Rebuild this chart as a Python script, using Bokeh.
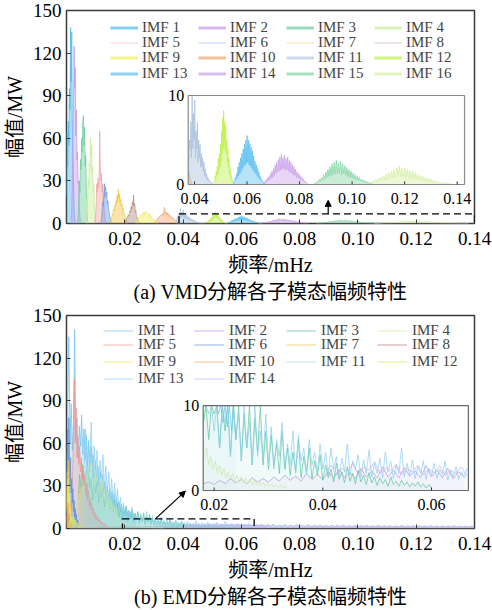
import numpy as np
from bokeh.plotting import figure
from bokeh.layouts import column
from bokeh.models import (Range1d, FixedTicker, Legend, LegendItem, Arrow,
                          NormalHead, BoxAnnotation, Title)
from bokeh.core.properties import value
from bokeh.embed import file_html
from bokeh.resources import INLINE

FONT = "Liberation Serif, Noto Sans CJK SC"

# ---- axes -------------------------------------------------------------
x_ticks = [0.02, 0.04, 0.06, 0.08, 0.10, 0.12, 0.14]
x_tick_labels = ["0.02", "0.04", "0.06", "0.08", "0.10", "0.12", "0.14"]
y_ticks = [0, 30, 60, 90, 120, 150]
y_tick_labels = ["0", "30", "60", "90", "120", "150"]
vmd_inset_x_ticks = [0.04, 0.06, 0.08, 0.10, 0.12, 0.14]
vmd_inset_x_labels = ["0.04", "0.06", "0.08", "0.10", "0.12", "0.14"]
emd_inset_x_ticks = [0.02, 0.04, 0.06]
emd_inset_x_labels = ["0.02", "0.04", "0.06"]
inset_y_ticks = [0, 10]
inset_y_labels = ["0", "10"]

# ---- (a) VMD mode spectra: first bin (mHz), bin width, amplitudes (MW) ---
vmd_names = ["IMF %d" % i for i in range(1, 17)]
vmd_f0 = [0.0, 0.0016, 0.0038, 0.0066, 0.0098, 0.0118, 0.0150, 0.0200,
          0.0236, 0.0300, 0.0376, 0.0475, 0.0548, 0.0662, 0.0856, 0.1055]
vmd_df = [0.0002, 0.0002, 0.0002, 0.0002, 0.0002, 0.0002, 0.0002, 0.0002,
          0.0003, 0.0003, 0.00025, 0.0002, 0.00025, 0.0003, 0.0004, 0.0005]
vmd_imf1 = [20, 65, 40, 72, 55, 95, 80, 138, 100, 135, 70, 48, 30, 12, 4, 1]
vmd_imf2 = [2, 10, 30, 55, 80, 125, 95, 110, 62, 80, 45, 50, 28, 30, 12, 5, 1]
vmd_imf3 = [1, 6, 15, 30, 22, 45, 38, 60, 50, 72, 76, 55, 68, 40, 48, 25, 10, 2]
vmd_imf4 = [1, 5, 18, 12, 30, 25, 42, 38, 60, 48, 55, 35, 40, 22, 28, 10, 4, 1]
vmd_imf5 = [1, 6, 14, 28, 22, 32, 25, 30, 65, 40, 30, 35, 22, 28, 15, 18, 8, 5, 2, 0.5]
vmd_imf6 = [0.5, 3, 8, 15, 12, 20, 28, 18, 26, 20, 22, 14, 16, 10, 8, 6, 3, 1.5, 0.5]
vmd_imf7 = [0.5, 1.5, 3, 5, 6, 8, 10, 9, 13, 12, 16, 14, 20, 16, 24, 18, 21, 15,
            17, 12, 14, 10, 11, 8, 7, 5, 4, 2.5, 1.5, 1, 0.5]
vmd_imf8 = [0.5, 1, 2, 3, 4, 5, 6, 5, 7, 9, 8, 12, 10, 15, 13, 20, 12, 14, 8, 9,
            5, 4, 3, 2, 1, 0.5]
vmd_imf9 = [0.3, 1, 2, 3, 4, 5, 6, 5, 7, 6, 8, 7, 8.5, 7, 6.5, 6, 7, 5, 5.5, 4,
            3.5, 3, 2, 1.5, 1, 0.5, 0.2]
vmd_imf10 = [0.2, 0.8, 1.5, 2, 3, 4, 4.5, 5, 6, 5.5, 7, 6, 11.5, 7, 8, 6, 7.5, 5,
             6, 4.5, 5, 3.5, 4, 3, 2.5, 2, 1.5, 1, 0.6, 0.3, 0.1]
vmd_imf11 = [1, 3, 5, 4, 7, 3, 10.5, 4, 8, 5, 9.5, 3, 6, 4, 7, 2.5, 5, 3, 4.5, 2,
             3.5, 2, 3, 1.5, 2.5, 1, 1.8, 0.8, 1.2, 0.5, 0.8, 0.4, 0.5, 0.3, 0.3,
             0.2, 0.2, 0.1, 0.1, 0.05]
vmd_imf12 = [0.2, 0.5, 1, 0.6, 1.5, 1, 2, 1.2, 3, 1.6, 3.5, 2, 4.5, 2.6, 6, 3.5,
             7.5, 4, 8.3, 4.5, 7, 3.8, 6.5, 3.5, 5, 2.6, 4, 2, 3, 1.2, 2, 0.8, 1.2,
             0.5, 0.6, 0.3, 0.3, 0.2, 0.1, 0.05]
vmd_imf13 = [0.1, 0.3, 0.5, 0.8, 0.6, 1.2, 0.8, 2, 1, 2.5, 1.2, 3, 1.5, 3.5, 1.8,
             4, 2, 4.5, 2.2, 5, 2.4, 5.5, 2.5, 5, 2.2, 4.6, 2.1, 4.2, 1.8, 3.8, 1.6,
             3.2, 1.4, 2.6, 1.2, 2.2, 1, 1.8, 0.8, 1.4, 0.6, 0.9, 0.5, 0.6, 0.4,
             0.3, 0.2, 0.15, 0.1, 0.05]
vmd_imf14 = [0.1, 0.3, 0.2, 0.5, 0.3, 0.7, 0.4, 0.9, 0.5, 1.2, 0.7, 1.5, 0.8, 1.8,
             1, 2.2, 1.2, 2.5, 1.4, 2.8, 1.5, 3.1, 1.6, 3.4, 1.7, 3.0, 1.8, 3.3,
             1.6, 2.9, 1.7, 3.1, 1.5, 2.7, 1.4, 2.5, 1.3, 2.2, 1.1, 2, 1, 1.7, 0.8,
             1.4, 0.7, 1.2, 0.6, 1, 0.5, 0.8, 0.4, 0.6, 0.3, 0.4, 0.2, 0.2, 0.1]
vmd_imf15 = [0.1, 0.2, 0.15, 0.35, 0.25, 0.6, 0.35, 0.8, 0.5, 1.1, 0.6, 1.4, 0.8,
             1.7, 0.9, 2, 1, 2.3, 1.1, 2.5, 1.2, 2.7, 1.2, 2.4, 1.3, 2.6, 1.1, 2.3,
             1.2, 2.1, 1, 1.9, 0.9, 1.7, 0.8, 1.5, 0.7, 1.3, 0.6, 1.1, 0.5, 0.9,
             0.45, 0.8, 0.4, 0.6, 0.3, 0.5, 0.25, 0.4, 0.2, 0.3, 0.15, 0.2, 0.1, 0.1]
vmd_imf16 = [0.1, 0.15, 0.1, 0.25, 0.15, 0.4, 0.25, 0.55, 0.3, 0.7, 0.4, 0.85,
             0.45, 1, 0.5, 1.2, 0.6, 1.35, 0.7, 1.5, 0.75, 1.7, 0.8, 1.9, 0.9, 2.1,
             0.9, 1.8, 0.85, 1.9, 0.8, 1.7, 0.75, 1.6, 0.7, 1.5, 0.65, 1.3, 0.6, 1.2,
             0.5, 1.05, 0.45, 0.9, 0.4, 0.8, 0.35, 0.7, 0.3, 0.6, 0.25, 0.5, 0.2,
             0.4, 0.2, 0.3, 0.15, 0.25, 0.1, 0.2, 0.1, 0.15, 0.1, 0.1, 0.05, 0.05]

# ---- (b) EMD mode spectra ----------------------------------------------
emd_names = ["IMF %d" % i for i in range(1, 15)]
emd_f0 = [0.0, 0.010, 0.004, 0.003, 0.0015, 0.0, 0.0, 0.0,
          0.0, 0.0, 0.066, 0.0008, 0.006, 0.0405]
emd_df = [0.0004, 0.001, 0.0005, 0.0004, 0.0003, 0.0002, 0.0002, 0.0002,
          0.0002, 0.0002, 0.001, 0.0003, 0.0005, 0.001]
emd_imf1 = [30, 95, 135, 60, 88, 55, 75, 140, 62, 78, 50, 72, 58, 80, 52, 70, 48,
            66, 44, 62, 40, 58, 45, 52, 36, 48, 32, 44, 30, 40, 27, 38, 25, 33,
            22, 30, 20, 28, 18, 26, 16, 24, 15, 21, 14, 19, 12, 17, 11, 16, 10,
            14, 9, 13, 8, 12, 7.5, 11, 7, 10, 6]
emd_imf2 = [0.5, 1, 0.6, 1.2, 0.7, 1.1, 0.6, 1.3, 0.8, 1,
            0.7, 1.2, 0.8, 1.4, 0.9, 1.3, 0.8, 1.5, 1, 1.4,
            1, 1.6, 1.1, 1.8, 1.2, 1.7, 1.1, 2, 1.3, 1.9,
            1.3, 2.2, 1.4, 2.5, 1.5, 2.1, 1.4, 2.6, 1.6, 2.3,
            1.5, 2.8, 1.6, 2.4, 1.5, 2.7, 1.7, 2.3, 1.5, 2.9,
            1.6, 2.4, 1.5, 2.6, 1.4, 2.2, 1.6, 2.5, 1.5, 2.3,
            1.5, 2.4, 1.4, 2.2, 1.5, 2.5, 1.4, 2.1, 1.5, 2.3,
            1.4, 2.2, 1.5, 2.4, 1.3, 2.1, 1.4, 2.3, 1.3, 2,
            1.4, 2.2, 1.3, 2.1, 1.4, 2.3, 1.2, 2, 1.3, 2.1,
            1.2, 2, 1.3, 2.2, 1.2, 1.9, 1.3, 2.1, 1.2, 1.9,
            1.2, 2, 1.1, 1.9, 1.2, 2.1, 1.1, 1.8, 1.2, 2,
            1.1, 1.9, 1.2, 1.8, 1.1, 2, 1.1, 1.8, 1, 1.9,
            1.1, 1.8, 1, 1.9, 1.1, 1.7, 1, 1.8, 1, 1.7, 1]
emd_imf3 = [20, 38, 25, 45, 30, 40, 22, 42, 28, 36, 20, 38, 25, 33, 18, 30, 22,
            28, 15, 26, 18, 24, 14, 22, 12, 20, 10, 18,
            8, 14, 6, 12, 9, 16, 5, 11, 7, 13, 4, 10.5, 6, 12, 3.5, 9, 5, 11, 3,
            8.5, 4.5, 10, 3, 7,
            2.5, 6.5, 3, 5.5, 2, 7, 2.5, 5, 1.8, 4.5, 2.2, 6, 1.5, 4, 2, 5, 1.4,
            3.5, 1.8, 4.2,
            1.2, 3, 1.5, 2.5, 1, 3.2, 1.3, 2.2, 0.9, 2.8, 1.1, 2, 0.8, 2.4, 1,
            1.8, 0.7, 2.1, 0.9, 1.6,
            0.6, 1.5, 0.8, 1.3, 0.5, 1.6, 0.7, 1.1, 0.5, 1.2, 0.6, 1, 0.4, 0.9,
            0.5, 1, 0.4, 0.8, 0.3, 0.7, 0.3]
emd_imf4 = [10, 18, 14, 25, 20, 30, 24, 35, 28, 40,
            32, 44, 36, 46, 34, 45, 30, 42, 33, 40,
            28, 38, 26, 34, 22, 30, 20, 27, 17, 24,
            15, 21, 13, 18, 11, 15, 6, 8, 4, 5,
            3, 4, 2.5, 3.5, 2, 3, 1.8, 2.6, 1.5, 2.2,
            1.3, 2, 1.1, 1.8, 1, 1.6, 0.9, 1.5, 0.8, 1.3,
            0.7, 1.2, 0.7, 1.1, 0.6, 1, 0.5, 0.9, 0.5, 0.8,
            0.4, 0.7, 0.4, 0.6, 0.3, 0.5, 0.3]
emd_imf5 = [5, 20, 40, 70, 105, 60, 85, 50, 65, 45, 58, 40, 50, 35, 44, 30, 38,
            25, 32, 20, 27, 16, 22, 13, 18, 10, 14, 8, 11, 6, 9, 5, 7, 4, 5.5, 3,
            4.5, 2.5, 3.5, 2, 2.8, 1.5, 1]
emd_imf6 = [20, 45, 70, 40, 78, 55, 30, 50, 25, 35, 18, 28, 12, 20, 8, 14, 6, 10,
            4, 6, 2]
emd_imf7 = [15, 40, 25, 48, 20, 30, 12, 18, 6, 8, 3, 2, 1]
emd_imf8 = [3, 8, 4, 10, 5, 6, 3, 2, 1]
emd_imf9 = [12, 30, 18, 35, 15, 25, 10, 14, 6, 8, 3, 2, 1]
emd_imf10 = [5, 12, 8, 18, 6, 10, 4, 6, 2, 3, 1]
emd_imf11 = [1.5, 3, 1.2, 2.6, 1.8, 3.2, 1.3, 2.4, 1.6, 2.9, 1.2, 2.2, 1.5, 2.7,
             1.1, 2.1, 1.4, 2.5, 1, 2, 1.3, 2.3, 1, 1.9, 1.2, 2.2, 0.9, 1.8, 1.1,
             2, 0.9, 1.7, 1.1, 1.9, 0.8, 1.6, 1, 1.8, 0.8, 1.5, 1, 1.7, 0.8, 1.4,
             0.9, 1.6, 0.7, 1.4, 0.9, 1.5, 0.7, 1.3, 0.8, 1.4, 0.7, 1.2, 0.8, 1.3,
             0.6, 1.2, 0.7, 1.2, 0.6, 1.1, 0.7, 1.1, 0.6, 1, 0.6, 1, 0.5, 0.9, 0.5,
             0.9, 0.5]
emd_imf12 = [2, 6, 4, 9, 5, 8, 3, 6, 2.5, 4, 1.5, 2.5, 1, 1.5, 0.5]
emd_imf13 = [45, 70, 38, 62, 50, 75, 35, 58, 42, 55, 30, 48, 36, 52, 28, 44, 25,
             40, 22, 35, 18, 32, 16, 28,
             12, 22, 9, 18, 7, 14, 5, 12, 8, 15, 4, 11, 6, 9, 3.5, 10.5, 5, 8, 3,
             12, 4, 7, 3.5, 9,
             3, 7.5, 2.5, 6, 4, 8, 2.5, 5.5, 3, 7, 2, 6.5, 3.5, 5, 2, 6, 3, 4.5,
             2, 5.5,
             2.5, 4.5, 1.8, 5, 2.5, 4, 1.5, 3.8, 2.2, 5.5, 1.8, 3.5, 2.5, 4.2, 1.5,
             3.6, 2, 4.8, 1.6, 3.2,
             2, 3.8, 1.5, 4.5, 2.2, 3.4, 1.4, 3, 2, 5, 1.6, 3.2, 1.8, 3.6, 1.4,
             2.8, 2, 3.5, 1.3, 2.6,
             1.8, 3.2, 1.4, 2.5, 1.9, 3.5, 1.2, 2.4, 1.6, 2.8, 1.3, 2.2, 1.5, 2.6,
             1.2, 2.0, 1.4]
emd_imf14 = [2, 3, 1.8, 2.6, 2.2, 3.2, 1.9, 2.8, 2.4, 3.4, 2, 2.7, 2.3, 3.1, 1.9,
             2.6, 2.2, 3, 1.8, 2.5, 2.1, 2.9, 1.8, 2.4, 2, 2.8, 1.7, 2.3, 1.9, 2.6]

# ---- styling ----------------------------------------------------------
vmd_colors = ["#4db8f0", "#c498e8", "#6dcf9c", "#c9ec9e", "#f3a3a3", "#6c9fe6",
              "#f1c443", "#b48c86", "#f2ec55", "#f6a56c", "#a9c0de", "#bff04e",
              "#5ec0f0", "#c9a3ea", "#84d5a6", "#d5eea4"]
vmd_key_widths = [3, 3, 3, 3, 1, 1, 1, 1, 3, 3, 3, 3, 3, 3, 3, 3]
vmd_key_alpha = [0.7, 0.7, 0.7, 0.7, 0.45, 0.45, 0.45, 0.45,
                 0.7, 0.7, 0.6, 0.7, 0.7, 0.7, 0.7, 0.7]
emd_colors = ["#6cc0f0", "#b890e2", "#55c795", "#cfe9a8", "#f0918a", "#5b8fe0",
              "#f0c040", "#c07570", "#efe94a", "#f3a570", "#a8cff2", "#c6f060",
              "#8ccff2", "#c7b0f0"]

vmd_amps = [vmd_imf1, vmd_imf2, vmd_imf3, vmd_imf4, vmd_imf5, vmd_imf6, vmd_imf7,
            vmd_imf8, vmd_imf9, vmd_imf10, vmd_imf11, vmd_imf12, vmd_imf13,
            vmd_imf14, vmd_imf15, vmd_imf16]
emd_amps = [emd_imf1, emd_imf2, emd_imf3, emd_imf4, emd_imf5, emd_imf6, emd_imf7,
            emd_imf8, emd_imf9, emd_imf10, emd_imf11, emd_imf12, emd_imf13,
            emd_imf14]


def bins(f0, df, amps):
    a = np.asarray(amps, dtype=float)
    return f0 + df * np.arange(len(a)), a


def base_figure(height, top, bottom, right, caption):
    p = figure(width=492, height=height, x_range=Range1d(0, 0.14),
               y_range=Range1d(0, 150), output_backend="svg",
               toolbar_location=None, min_border_left=65,
               min_border_right=right, min_border_top=top,
               min_border_bottom=bottom)
    p.grid.visible = False
    p.outline_line_color = "#3a3a3a"
    p.outline_line_width = 1.5
    p.xaxis.ticker = FixedTicker(ticks=x_ticks)
    p.xaxis.major_label_overrides = dict(zip(x_ticks, x_tick_labels))
    p.yaxis.ticker = FixedTicker(ticks=y_ticks)
    p.yaxis.major_label_overrides = dict(zip(y_ticks, y_tick_labels))
    for ax in (p.xaxis[0], p.yaxis[0]):
        ax.axis_line_color = None
        ax.major_tick_in = 4
        ax.major_tick_out = 0
        ax.major_tick_line_color = "#3a3a3a"
        ax.minor_tick_line_color = None
        ax.major_label_text_font = FONT
        ax.major_label_text_font_size = "19px"
        ax.major_label_text_color = "black"
        ax.axis_label_text_font = FONT
        ax.axis_label_text_font_size = "20px"
        ax.axis_label_text_font_style = "normal"
        ax.axis_label_text_color = "black"
    p.xaxis.major_label_standoff = 8
    p.xaxis.axis_label_standoff = 6
    p.yaxis.major_label_standoff = 5
    p.yaxis.axis_label_standoff = 4
    p.xaxis.axis_label = "频率/mHz"
    p.yaxis.axis_label = "幅值/MW"
    p.add_layout(Title(text=caption, align="center", text_font=FONT,
                       text_font_size="20px", text_font_style="normal",
                       text_color="black", standoff=0), "below")
    return p


def draw_spectrum(api, f, a, color, line_alpha, fill_alpha):
    api.varea(x=f, y1=np.zeros_like(a), y2=a, fill_color=color,
              fill_alpha=fill_alpha)
    return api.line(f, a, line_color=color, line_alpha=line_alpha, line_width=1)


def add_legend_grid(p, renderers, names, col_x, row_y, glyph_w, standoff):
    """One single-entry legend per key, laid out on a 4-column grid."""
    for k, (r, n) in enumerate(zip(renderers, names)):
        lg = Legend(items=[LegendItem(label=n, renderers=[r])],
                    location=(col_x[k % 4], row_y[k // 4]),
                    border_line_color=None, background_fill_alpha=0,
                    padding=0, margin=0, spacing=0, glyph_width=glyph_w,
                    glyph_height=15, label_height=15, label_standoff=standoff,
                    label_text_font=FONT, label_text_font_size="15px")
        p.add_layout(lg, "center")


def inset(p, xsrc, xtgt, ytgt, series, colors, alpha, fill, xt, xl, frame_color):
    sub = p.subplot(x_source=Range1d(*xsrc), y_source=Range1d(0, 10),
                    x_target=Range1d(*xtgt), y_target=Range1d(*ytgt))
    sub.quad(left=[xsrc[0]], right=[xsrc[1]], bottom=[0], top=[10],
             fill_color="white", line_color=None)
    for (f, a), c in zip(series, colors):
        m = (f >= xsrc[0]) & (f <= xsrc[1])
        if m.sum() > 1:
            draw_spectrum(sub, f[m], np.minimum(a[m], 10), c, alpha, fill)
    sub.quad(left=[xsrc[0]], right=[xsrc[1]], bottom=[0], top=[10],
             fill_alpha=0, line_color=frame_color, line_width=1.2)
    sub.segment(x0=xt, y0=[0] * len(xt), x1=xt, y1=[0.35] * len(xt),
                line_color="#333333", line_width=1)
    sub.text(x=xt, y=[0] * len(xt), text=xl, text_align="center",
             text_baseline="middle", y_offset=14, text_font=value(FONT),
             text_font_size="16px", text_color="black")
    sub.text(x=[xsrc[0]] * 2, y=inset_y_ticks, text=inset_y_labels,
             text_align="right", text_baseline="middle", x_offset=-4,
             text_font=value(FONT), text_font_size="16px", text_color="black")


# ---------------------------- (a) VMD ----------------------------------
p1 = base_figure(303, 10, 80, 18, "(a) VMD分解各子模态幅频特性")
vmd_series = [bins(f0, df, a) for f0, df, a in zip(vmd_f0, vmd_df, vmd_amps)]
for (f, a), c in zip(vmd_series, vmd_colors):
    draw_spectrum(p1, f, a, c, 0.75, 0.45)
# legend keys (a single undefined point, so nothing is drawn in the frame)
keys = [p1.line(x=[np.nan], y=[np.nan], line_color=c, line_width=w, line_alpha=al)
        for c, w, al in zip(vmd_colors, vmd_key_widths, vmd_key_alpha)]
add_legend_grid(p1, keys, vmd_names, [44, 132, 220, 308],
                [187.5, 172.5, 157, 141.5], 28, 4)
p1.add_layout(BoxAnnotation(left=0.0386, right=0.14, bottom=-1.4, top=6.8,
                            fill_alpha=0, line_color="black", line_alpha=1,
                            line_width=1.3, line_dash="7 4"))
p1.add_layout(Arrow(end=NormalHead(size=6, fill_color="black", line_color="black"),
                    x_start=0.0898, y_start=6.8, x_end=0.0898, y_end=16.3,
                    line_color="black", line_width=1.2))
inset(p1, (0.0376, 0.1428), (0.04176, 0.13658), (27.46, 90.14), vmd_series,
      vmd_colors, 0.75, 0.45, vmd_inset_x_ticks, vmd_inset_x_labels, "#8a8a8a")

# ---------------------------- (b) EMD ----------------------------------
p2 = base_figure(307, 12, 82, 17, "(b) EMD分解各子模态幅频特性")
emd_series = [bins(f0, df, a) for f0, df, a in zip(emd_f0, emd_df, emd_amps)]
emd_lines = [draw_spectrum(p2, f, a, c, 0.7, 0.28)
             for (f, a), c in zip(emd_series, emd_colors)]
add_legend_grid(p2, emd_lines, emd_names, [37, 128, 220, 311],
                [189.5, 175, 158.5, 141.5], 30, 5)
p2.add_layout(BoxAnnotation(left=0.0192, right=0.0644, bottom=-1.4, top=6.8,
                            fill_alpha=0, line_color="black", line_alpha=1,
                            line_width=1.3, line_dash="7 4"))
p2.add_layout(Arrow(end=NormalHead(size=6, fill_color="black", line_color="black"),
                    x_start=0.0305, y_start=6.8, x_end=0.0408, y_end=26.3,
                    line_color="black", line_width=1.2))
inset(p2, (0.01798, 0.06679), (0.0469, 0.1379), (26.76, 86.6), emd_series,
      emd_colors, 0.7, 0.05, emd_inset_x_ticks, emd_inset_x_labels, "#6a6a6a")

page = column(p1, p2, spacing=0)
open("out.html", "w").write(file_html(page, INLINE))
